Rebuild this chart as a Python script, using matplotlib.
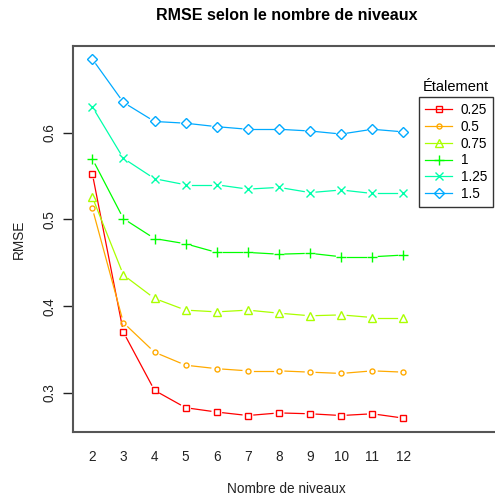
import numpy as np
import matplotlib
matplotlib.use("Agg")
import matplotlib.pyplot as plt
from matplotlib.lines import Line2D

plt.rcParams["font.family"] = ["Liberation Sans", "DejaVu Sans"]

# données
niveaux = [2, 3, 4, 5, 6, 7, 8, 9, 10, 11, 12]
etalements = ["0.25", "0.5", "0.75", "1", "1.25", "1.5"]
rmse_025 = [0.553, 0.370, 0.303, 0.283, 0.278, 0.274, 0.277, 0.276, 0.274, 0.276, 0.271]
rmse_050 = [0.513, 0.381, 0.347, 0.332, 0.328, 0.3255, 0.3255, 0.324, 0.3225, 0.3255, 0.324]
rmse_075 = [0.526, 0.436, 0.409, 0.3955, 0.3935, 0.3955, 0.392, 0.389, 0.390, 0.387, 0.387]
rmse_100 = [0.570, 0.501, 0.478, 0.472, 0.462, 0.462, 0.460, 0.461, 0.457, 0.457, 0.459]
rmse_125 = [0.630, 0.5705, 0.547, 0.540, 0.540, 0.535, 0.537, 0.531, 0.534, 0.530, 0.530]
rmse_150 = [0.685, 0.635, 0.613, 0.611, 0.607, 0.604, 0.604, 0.602, 0.5985, 0.604, 0.601]
series = [rmse_025, rmse_050, rmse_075, rmse_100, rmse_125, rmse_150]

colors = ["#FF0000", "#FFAA00", "#AAFF00", "#00FF00", "#00FFAA", "#00AAFF"]
markers = ["s", "o", "^", "+", "x", "D"]
msizes = [4.6, 3.6, 5.2, 7.5, 5.2, 4.8]

fig = plt.figure(figsize=(4.95, 5), dpi=100)
ax = fig.add_axes([73 / 495, 68 / 500, 1.0 - 73 / 495 + 0.01, 386 / 500])
ax.set_xlim(1.38, 15.1)
ax.set_ylim(0.255, 0.700)

# lignes de type "b" : segments interrompus autour des points
gap = 6  # pixels
for vals, c in zip(series, colors):
    pts = ax.transData.transform(np.column_stack([niveaux, vals]))
    for p0, p1 in zip(pts[:-1], pts[1:]):
        d = p1 - p0
        n = np.hypot(*d)
        if n <= 2 * gap:
            continue
        u = d / n
        seg = ax.transData.inverted().transform([p0 + u * gap, p1 - u * gap])
        ax.plot(seg[:, 0], seg[:, 1], color=c, lw=0.9)

handles = []
for vals, lab, c, m, ms in zip(series, etalements, colors, markers, msizes):
    ax.plot(niveaux, vals, ls="none", marker=m, ms=ms, mfc="none",
            mec=c, mew=1.0)
    handles.append(Line2D([], [], color=c, lw=0.9, marker=m, ms=ms,
                          mfc="none", mec=c, mew=1.0, label=lab))

ax.set_xticks(niveaux)
ax.set_yticks([0.3, 0.4, 0.5, 0.6])
ax.set_yticklabels(["0.3", "0.4", "0.5", "0.6"], rotation=90, va="center")
ax.tick_params(axis="x", length=0, pad=13, labelsize=9.8, colors="#222222")
ax.tick_params(axis="y", length=7, width=1, pad=5, labelsize=9.8, colors="#222222")
for s in ax.spines.values():
    s.set_color("#555555")
    s.set_linewidth(1.5)
ax.spines["right"].set_visible(False)

ax.set_xlabel("Nombre de niveaux", fontsize=9.8, labelpad=13, color="#222222")
ax.set_ylabel("RMSE", fontsize=9.8, labelpad=12, color="#222222")
fig.text(287 / 495, 1 - 15 / 500, "RMSE selon le nombre de niveaux",
         ha="center", va="center", fontsize=11.5, fontweight="bold")

fig.text(456 / 495, 1 - 87 / 500, "Étalement", ha="center", va="center", fontsize=10.5)
leg = ax.legend(handles=handles, loc="upper left",
                bbox_to_anchor=(419 / 495, 1 - 97 / 500),
                bbox_transform=fig.transFigure, fontsize=9.8, frameon=True,
                fancybox=False, handlelength=2.0, handletextpad=0.6,
                labelspacing=0.2, borderpad=0.45, borderaxespad=0)
leg.get_frame().set_edgecolor("black")
leg.get_frame().set_linewidth(1)

fig.savefig("out.png", dpi=100)
